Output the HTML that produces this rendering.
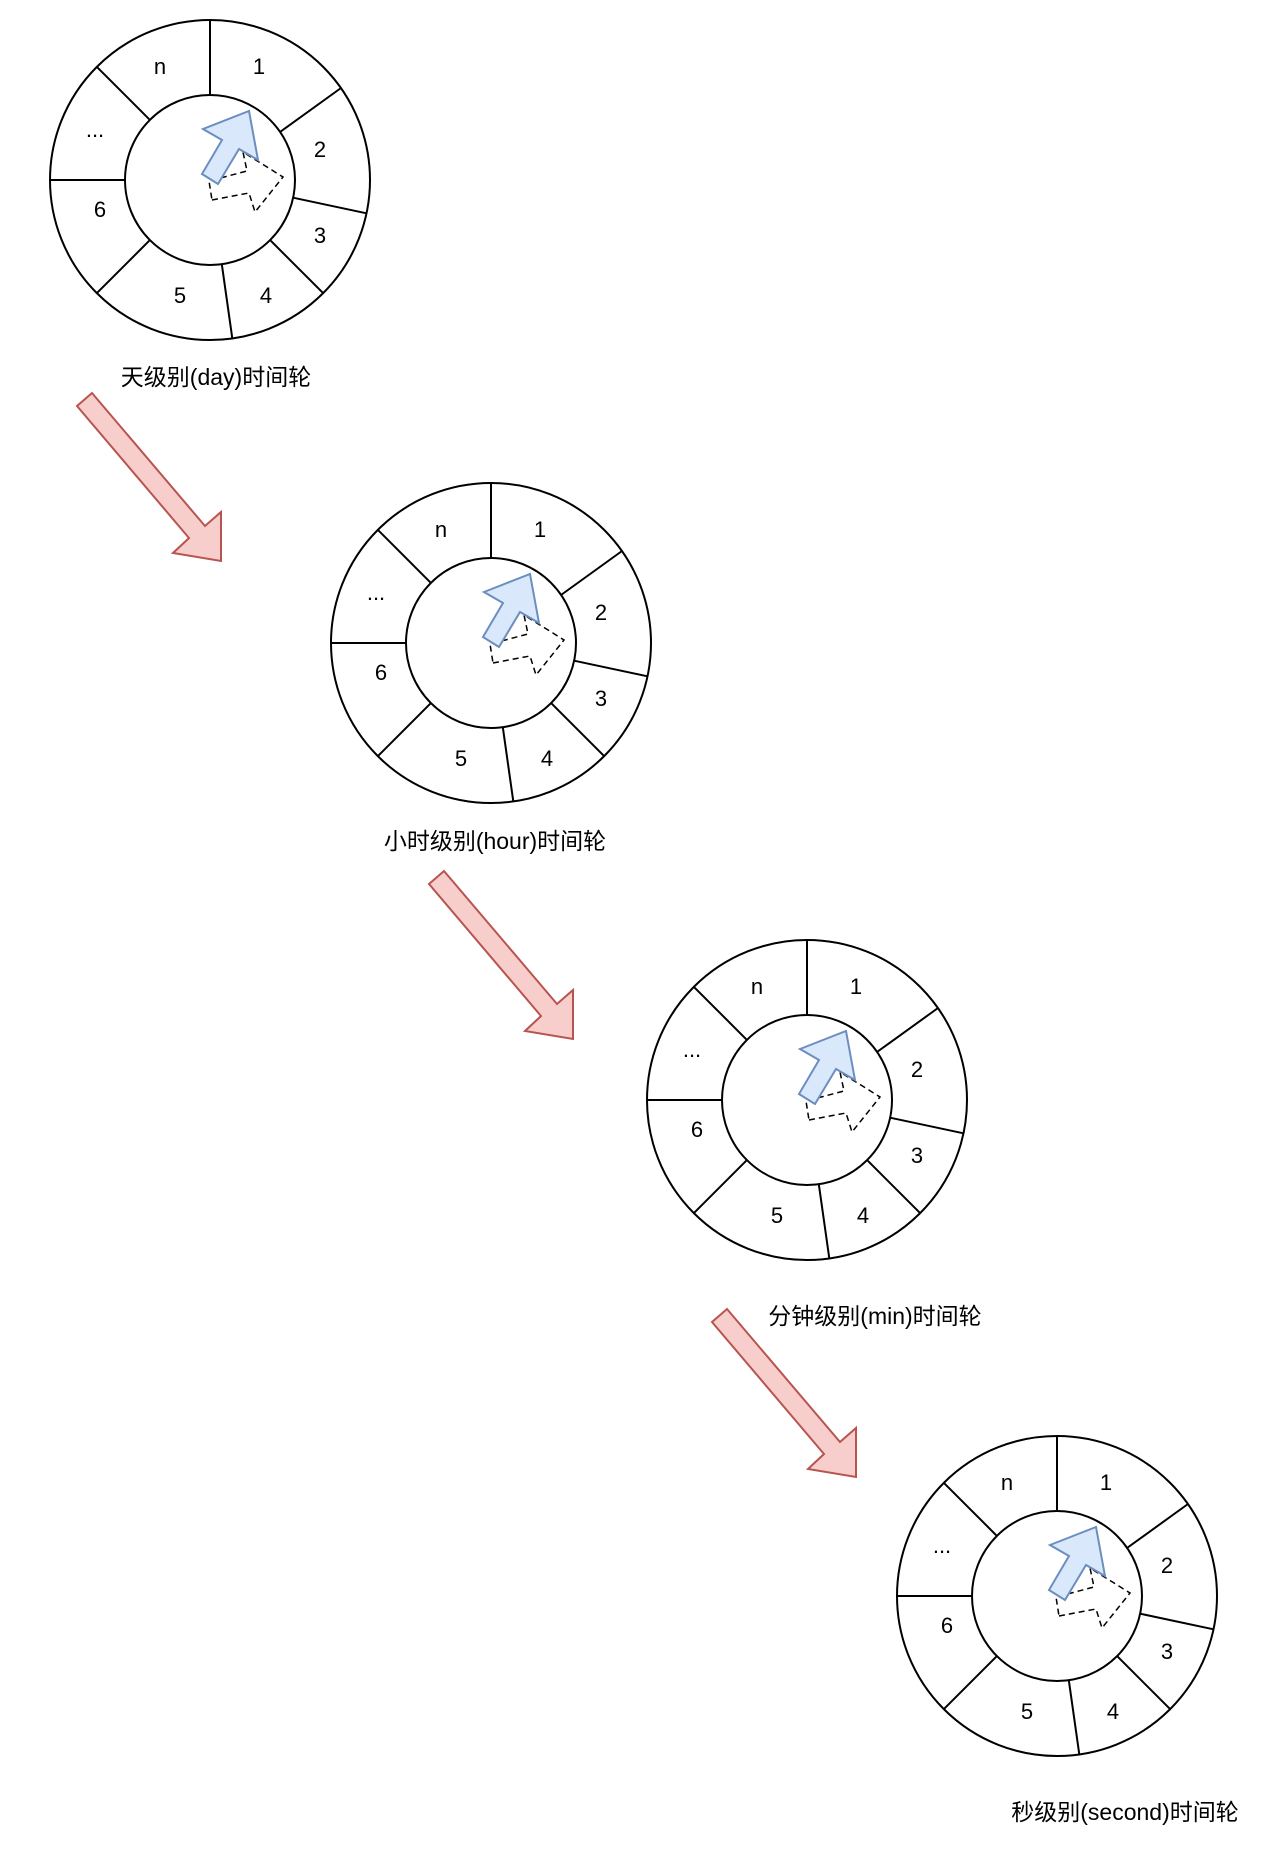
<!DOCTYPE html>
<html><head><meta charset="utf-8"><style>
html,body{margin:0;padding:0;background:#fff;}
svg{display:block;}
text{font-family:"Liberation Sans","Noto Sans CJK SC",sans-serif;fill:#000;}
</style></head><body>
<svg width="1280" height="1860" viewBox="0 0 1280 1860" xmlns="http://www.w3.org/2000/svg">
<defs>
<g id="wheel">
  <circle cx="0" cy="0" r="160" fill="#fff" stroke="#000" stroke-width="2"/>
  <circle cx="0" cy="0" r="85" fill="#fff" stroke="#000" stroke-width="2"/>
  <g stroke="#000" stroke-width="2">
    <line x1="0" y1="-85" x2="0" y2="-160"/>
    <line x1="70" y1="-48" x2="131" y2="-92"/>
    <line x1="83.1" y1="17.7" x2="156.5" y2="33.3"/>
    <line x1="60.1" y1="60.1" x2="113.1" y2="113.1"/>
    <line x1="11.8" y1="84.2" x2="22.3" y2="158.4"/>
    <line x1="-60.1" y1="60.1" x2="-113.1" y2="113.1"/>
    <line x1="-85" y1="0" x2="-160" y2="0"/>
    <line x1="-60.1" y1="-60.1" x2="-113.1" y2="-113.1"/>
  </g>
  <g font-size="22" text-anchor="middle">
    <text x="-50" y="-106">n</text>
    <text x="49" y="-106">1</text>
    <text x="110" y="-23">2</text>
    <text x="-115" y="-43">...</text>
    <text x="-110" y="37">6</text>
    <text x="110" y="63">3</text>
    <text x="-30" y="123">5</text>
    <text x="56" y="123">4</text>
  </g>
  <polygon points="2,20 39,13 45,32 73,-3 33,-28 37,-9 -1,1" fill="none" stroke="#000" stroke-width="1.5" stroke-dasharray="6,4"/>
  <polygon points="-7,-51 39,-69 48,-20 29,-31 8,4 -8,-6 12,-40" fill="#dae8fc" stroke="#6c8ebf" stroke-width="2"/>
</g>
<polygon id="rarrow" points="77,406 92,393 205,526 221,512 221,561 173,553 189,538" fill="#f8cecc" stroke="#b85450" stroke-width="2"/>
</defs>
<use href="#wheel" x="210" y="180"/>
<use href="#wheel" x="491" y="643"/>
<use href="#wheel" x="807" y="1100"/>
<use href="#wheel" x="1057" y="1596"/>
<use href="#rarrow" x="0" y="0"/>
<use href="#rarrow" x="352" y="478"/>
<use href="#rarrow" x="635" y="916"/>
<g font-size="23" text-anchor="middle">
<text x="216" y="385">天级别(day)时间轮</text>
<text x="495" y="849">小时级别(hour)时间轮</text>
<text x="875" y="1324">分钟级别(min)时间轮</text>
<text x="1125" y="1820">秒级别(second)时间轮</text>
</g>
</svg>
</body></html>
